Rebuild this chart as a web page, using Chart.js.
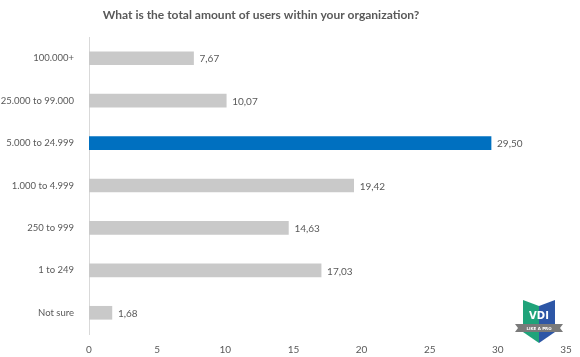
<!DOCTYPE html>
<html>
<head>
<meta charset="utf-8">
<script src="https://cdn.jsdelivr.net/npm/chart.js@4/dist/chart.umd.min.js"></script>
<style>
html,body{margin:0;padding:0;background:#fff;}
#wrap{width:580px;height:357px;}
</style>
</head>
<body>
<div id="wrap"><canvas id="c" width="580" height="357"></canvas></div>
<script>
const categories = ["100.000+", "25.000 to 99.000", "5.000 to 24.999", "1.000 to 4.999", "250 to 999", "1 to 249", "Not sure"];
const values = [7.67, 10.07, 29.50, 19.42, 14.63, 17.03, 1.68];
const barColors = ["#c9c9c9", "#c9c9c9", "#0070c0", "#c9c9c9", "#c9c9c9", "#c9c9c9", "#c9c9c9"];
const xTicks = [0, 5, 10, 15, 20, 25, 30, 35];
const titleText = "What is the total amount of users within your organization?";

const FONT = "Lato, 'Open Sans', sans-serif";
const TXT = "#595959";

const titlePlugin = {
  id: "customTitle",
  afterDraw(chart) {
    const ctx = chart.ctx;
    ctx.save();
    ctx.font = "bold 12px " + FONT;
    ctx.fillStyle = TXT;
    ctx.textAlign = "center";
    ctx.textBaseline = "middle";
    ctx.fillText(titleText, 261, 15);
    ctx.restore();
  }
};

const valueLabels = {
  id: "valueLabels",
  afterDatasetsDraw(chart) {
    const ctx = chart.ctx;
    const meta = chart.getDatasetMeta(0);
    ctx.save();
    ctx.font = "10px " + FONT;
    ctx.fillStyle = TXT;
    ctx.textAlign = "left";
    ctx.textBaseline = "middle";
    meta.data.forEach((bar, i) => {
      const s = values[i].toFixed(2).replace(".", ",");
      ctx.fillText(s, bar.x + 6, bar.y + 1);
    });
    ctx.restore();
  }
};

const logo = {
  id: "logo",
  afterDraw(chart) {
    const ctx = chart.ctx;
    ctx.save();
    ctx.fillStyle = "#1fa37a";
    ctx.beginPath();
    ctx.moveTo(523, 300);
    ctx.lineTo(539, 306);
    ctx.lineTo(539, 343);
    ctx.lineTo(523, 332);
    ctx.closePath();
    ctx.fill();
    ctx.fillStyle = "#2d56a6";
    ctx.beginPath();
    ctx.moveTo(539, 306);
    ctx.lineTo(555, 300);
    ctx.lineTo(555, 332);
    ctx.lineTo(539, 343);
    ctx.closePath();
    ctx.fill();
    ctx.fillStyle = "#7a7a7a";
    ctx.beginPath();
    ctx.moveTo(515, 324);
    ctx.lineTo(563, 324);
    ctx.lineTo(560, 328);
    ctx.lineTo(563, 332);
    ctx.lineTo(515, 332);
    ctx.lineTo(518, 328);
    ctx.closePath();
    ctx.fill();
    ctx.fillStyle = "#ffffff";
    ctx.font = "bold 10px 'DejaVu Sans', sans-serif";
    ctx.textAlign = "center";
    ctx.textBaseline = "middle";
    ctx.fillText("VDI", 539, 316);
    ctx.font = "bold 4px 'DejaVu Sans', sans-serif";
    ctx.fillText("LIKE A PRO", 539, 328.5);
    ctx.restore();
  }
};

new Chart(document.getElementById("c"), {
  type: "bar",
  data: {
    labels: categories,
    datasets: [{
      data: values,
      backgroundColor: barColors,
      borderWidth: 0,
      barThickness: 13
    }]
  },
  options: {
    indexAxis: "y",
    responsive: false,
    animation: false,
    devicePixelRatio: 1,
    layout: { padding: { left: 0, right: 14, top: 37, bottom: 0 } },
    plugins: {
      legend: { display: false },
      tooltip: { enabled: false },
      title: { display: false }
    },
    scales: {
      x: {
        min: 0, max: 35,
        afterBuildTicks(scale) { scale.ticks = xTicks.map(v => ({ value: v })); },
        afterFit(scale) { scale.height = 23; },
        grid: { display: false },
        border: { display: false },
        ticks: { color: TXT, font: { family: FONT, size: 10 }, padding: 2 }
      },
      y: {
        afterFit(scale) { scale.width = 89; },
        grid: { display: false },
        border: { display: true, color: "#d9d9d9", width: 1 },
        ticks: { color: TXT, font: { family: FONT, size: 9.5 }, padding: 7 }
      }
    }
  },
  plugins: [titlePlugin, valueLabels, logo]
});
</script>
</body>
</html>
